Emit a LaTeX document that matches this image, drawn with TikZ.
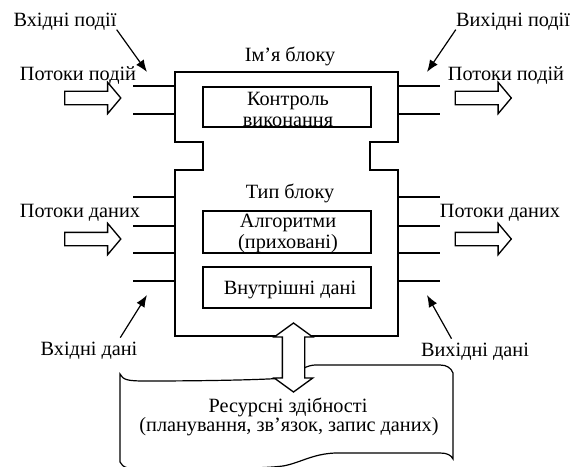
\documentclass[tikz,border=0pt]{standalone}
\usepackage{fontspec}
\setmainfont{Liberation Serif}
\usetikzlibrary{arrows.meta,shapes.arrows}

\tikzset{
  lbl/.style={font=\fontsize{15.2}{16}\selectfont, inner sep=0pt, anchor=base},
  inbox/.style={draw, line width=1.1pt, inner sep=0pt, minimum width=126pt},
  flow/.style={single arrow, draw, line width=1pt, fill=white, inner sep=4.5pt,
    single arrow head extend=6.75pt, single arrow tip angle=100, minimum height=42pt},
  ptr/.style={-{Latex[length=9pt,width=7pt]}, line width=0.9pt},
  stub/.style={line width=2pt}
}

\begin{document}
\begin{tikzpicture}[x=0.75pt,y=-0.75pt]
  \useasboundingbox (0,0) rectangle (571,467);

  % Контур блоку
  \draw[line width=2.2pt] (175,72) -- (398,72) -- (398,142) -- (370,142) -- (370,170)
    -- (398,170) -- (398,336) -- (175,336) -- (175,170) -- (203,170) -- (203,142)
    -- (175,142) -- cycle;

  % Входи і виходи
  \foreach \y in {86,114,197,226,253,281} {
    \draw[stub] (133,\y) -- (175,\y);
    \draw[stub] (398,\y) -- (440,\y);
  }

  % Внутрішні прямокутники
  \node[inbox, minimum height=30pt] (ctrl) at (287,107) {};
  \node[inbox, minimum height=31.5pt] (algo) at (287,232) {};
  \node[inbox, minimum height=30.75pt] (idata) at (287,287.5) {};

  % Написи в блоці
  \node[lbl] (name) at (290,62) {Ім’я блоку};
  \node[lbl] (ctrlA) at (288,105) {Контроль};
  \node[lbl] (ctrlB) at (288,126) {виконання};
  \node[lbl] (kind) at (290,198) {Тип блоку};
  \node[lbl] (algoA) at (288,227) {Алгоритми};
  \node[lbl] (algoB) at (288,248) {(приховані)};
  \node[lbl] (idataA) at (290,294) {Внутрішні дані};

  % Написи зліва
  \node[lbl] (inev) at (65,27) {Вхідні події};
  \node[lbl] (inflow) at (78,81) {Потоки подій};
  \node[lbl] (indflow) at (80,217) {Потоки даних};
  \node[lbl] (indata) at (89,355) {Вхідні дані};

  % Написи справа
  \node[lbl] (outev) at (513,27) {Вихідні події};
  \node[lbl] (outflow) at (506,81) {Потоки подій};
  \node[lbl] (outdflow) at (500,217) {Потоки даних};
  \node[lbl] (outdata) at (475,356) {Вихідні дані};

  % Стрілки-вказівники
  \coordinate (inevtip) at (147,72);
  \coordinate (outevtip) at (427,72);
  \coordinate (indatatip) at (147,295);
  \coordinate (outdatatip) at (427,295);
  \draw[ptr] ([yshift=-2pt]inev.base east) -- (inevtip);
  \draw[ptr] ([yshift=-2pt]outev.base west) -- (outevtip);
  \draw[ptr] ([xshift=-13pt,yshift=13pt]indata.base east) -- (indatatip);
  \draw[ptr] ([xshift=23pt,yshift=13pt]outdata.base west) -- (outdatatip);

  % Потоки
  \node[flow] (inevarr) at (90,98) {};
  \node[flow] (indarr) at (90,239) {};
  \node[flow] (outevarr) at (480.5,98) {};
  \node[flow] (outdarr) at (480.5,239) {};

  % Ресурси
  \draw[line width=0.9pt] (120,374) .. controls (123,380) and (128,381) .. (145,381)
    .. controls (200,381) and (260,380) .. (285,378)
    .. controls (298,376) and (300,366) .. (315,365) -- (440,365)
    .. controls (447,365) and (451,368) .. (453,373) -- (453,459)
    .. controls (451,455) and (447,453) .. (440,453) -- (335,453)
    .. controls (312,454) and (300,463) .. (283,466)
    .. controls (260,469) and (200,469) .. (145,469)
    .. controls (128,469) and (123,468) .. (120,462) -- cycle;
  \node[lbl] (resA) at (288,412) {Ресурсні здібності};
  \node[lbl] (resB) at (289,431) {(планування, зв’язок, запис даних)};

  % Зв'язок з ресурсами
  \node[double arrow, draw, fill=white, line width=1pt, rotate=90, minimum height=51.75pt,
    inner sep=7.875pt, double arrow head extend=6pt, double arrow tip angle=108]
    (link) at (293.5,357.5) {};
\end{tikzpicture}
\end{document}
